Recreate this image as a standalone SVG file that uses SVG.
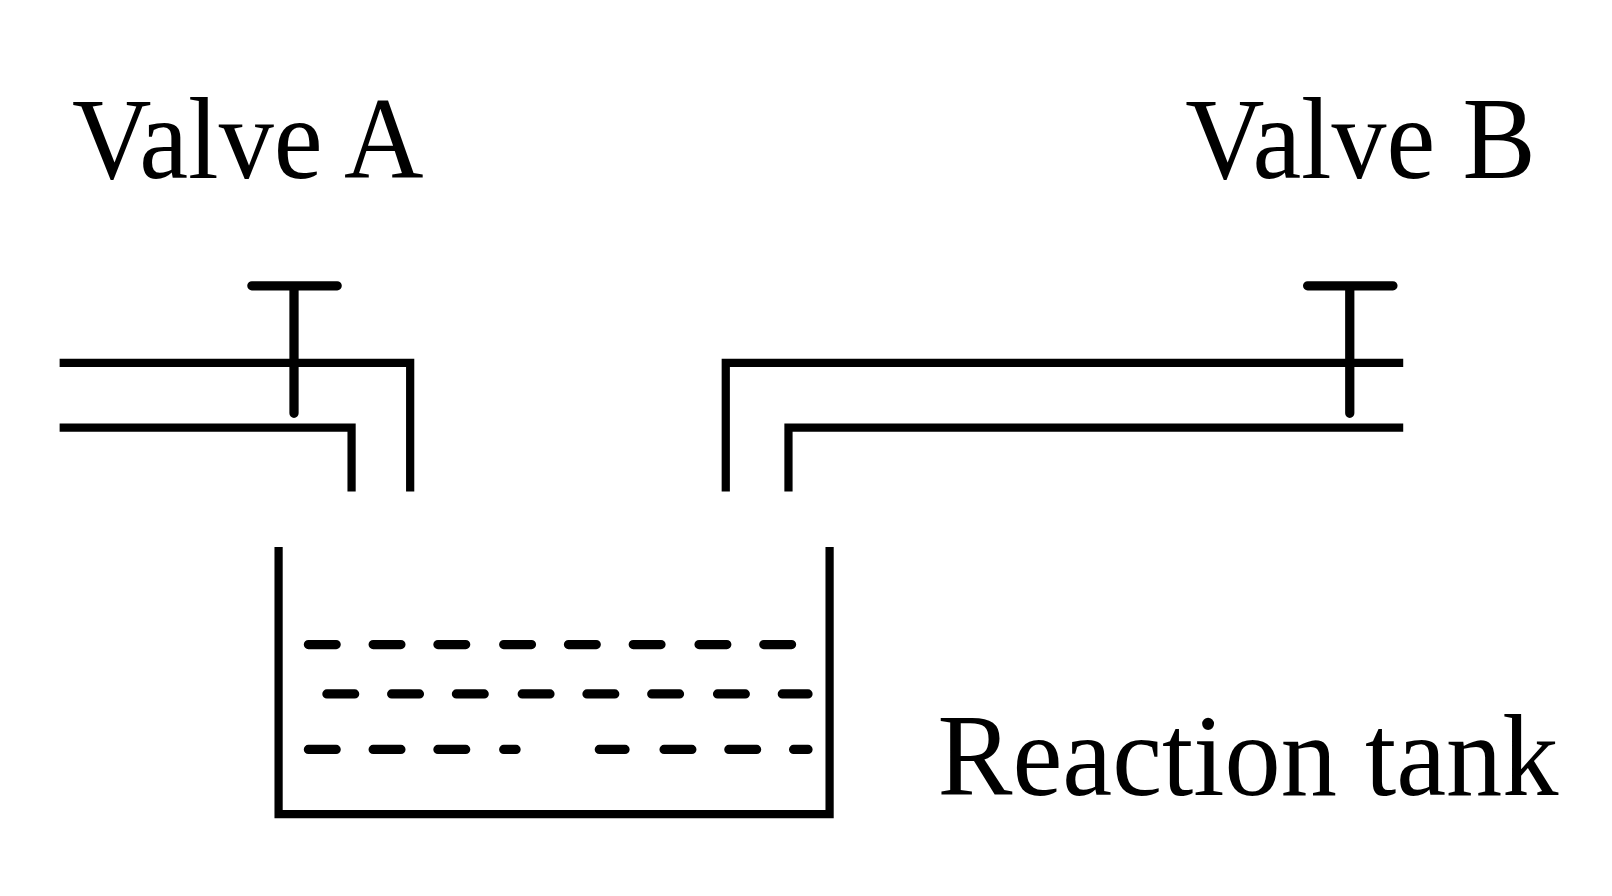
<svg xmlns="http://www.w3.org/2000/svg" width="1612" height="896" viewBox="0 0 1612 896">
<style>
.l{fill:none;stroke:#000;stroke-width:8}
.r{fill:none;stroke:#000;stroke-width:9;stroke-linecap:round}
text{font-family:"Liberation Serif","Times New Roman",serif;font-size:114px;fill:#000}
</style>
<rect width="1612" height="896" fill="#fff"/>
<g transform="scale(1.028)">
<g id="labels">
<text x="70" y="173" textLength="342" lengthAdjust="spacingAndGlyphs">Valve A</text>
<text x="1153" y="173" textLength="341" lengthAdjust="spacingAndGlyphs">Valve B</text>
<text x="912" y="773" textLength="604" lengthAdjust="spacingAndGlyphs">Reaction tank</text>
</g>
<g id="pipeA">
<path class="l" d="M58 353H399V478M58 416H342V478"/>
<path class="r" d="M286 280V402M245 278H328"/>
</g>
<g id="pipeB">
<path class="l" d="M706 478V353H1365M767 478V416H1365"/>
<path class="r" d="M1313 280V402M1272 278H1355"/>
</g>
<g id="tank">
<path class="l" d="M271 532V792H807V532"/>
<path class="r" d="M300 627H327M363 627H390M426 627H453M490 627H517M553 627H580M616 627H643M680 627H707M743 627H770M318 675H345M381 675H408M444 675H471M508 675H535M571 675H598M634 675H661M698 675H725M761 675H786M300 729H327M363 729H390M426 729H453M490 729H502M583 729H608M646 729H673M709 729H736M772 729H786"/>
</g>
</g>
</svg>
